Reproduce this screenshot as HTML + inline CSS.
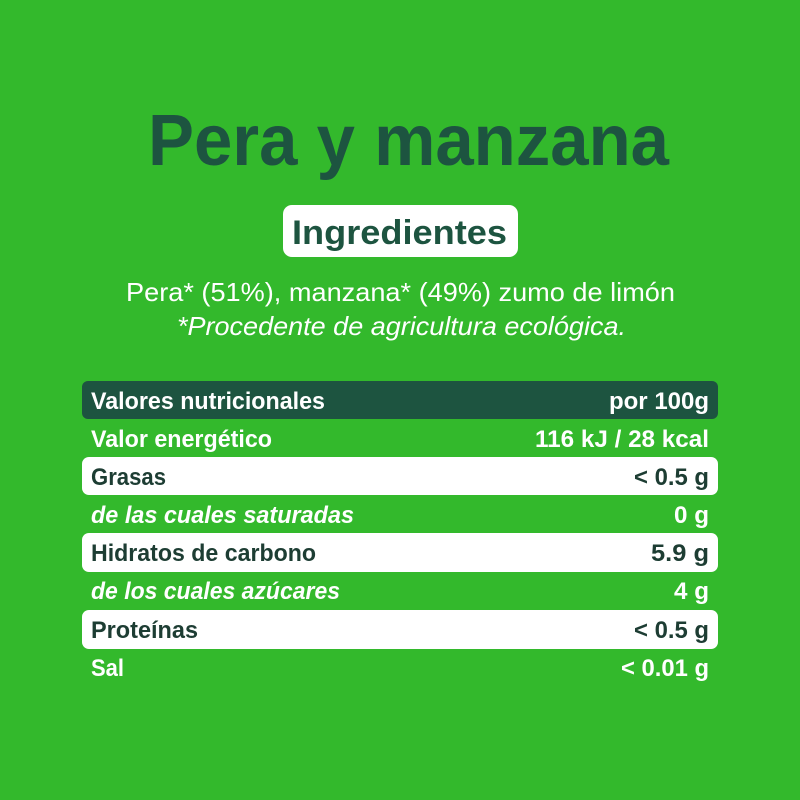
<!DOCTYPE html>
<html><head><meta charset="utf-8"><style>
html,body{margin:0;padding:0;background:#33b92c;}
svg{display:block;}
text{font-family:"Liberation Sans",sans-serif;}
</style></head><body>
<svg width="800" height="800" viewBox="0 0 800 800" xmlns="http://www.w3.org/2000/svg">
<rect width="800" height="800" fill="#33b92c"/>
<text x="148" y="165" font-size="72" font-weight="bold" fill="#1d5440" textLength="521" lengthAdjust="spacingAndGlyphs">Pera y manzana</text>
<rect x="283" y="205" width="235" height="52" rx="9" fill="#fff"/>
<text x="292" y="244" font-size="34" font-weight="bold" fill="#1d5440" textLength="215" lengthAdjust="spacingAndGlyphs">Ingredientes</text>
<text x="126" y="301" font-size="26" fill="#fff" textLength="549" lengthAdjust="spacingAndGlyphs">Pera* (51%), manzana* (49%)  zumo de limón</text>
<text x="177" y="335" font-size="26" font-style="italic" fill="#fff" textLength="449" lengthAdjust="spacingAndGlyphs">*Procedente de agricultura ecológica.</text>

<rect x="82" y="381" width="636" height="38" rx="6" fill="#1d5440"/>
<rect x="82" y="457" width="636" height="38" rx="7" fill="#fff"/>
<rect x="82" y="533" width="636" height="39" rx="7" fill="#fff"/>
<rect x="82" y="610" width="636" height="39" rx="7" fill="#fff"/>

<g font-size="24" font-weight="bold">
<text x="91" y="409" fill="#fff" textLength="234" lengthAdjust="spacingAndGlyphs">Valores nutricionales</text>
<text x="709" y="409" fill="#fff" text-anchor="end" textLength="100" lengthAdjust="spacingAndGlyphs">por 100g</text>
<text x="91" y="447" fill="#fff" textLength="181" lengthAdjust="spacingAndGlyphs">Valor energético</text>
<text x="709" y="447" fill="#fff" text-anchor="end" textLength="174" lengthAdjust="spacingAndGlyphs">116 kJ / 28 kcal</text>
<text x="91" y="485" fill="#1d3d33" textLength="75" lengthAdjust="spacingAndGlyphs">Grasas</text>
<text x="709" y="485" fill="#1d3d33" text-anchor="end" textLength="75" lengthAdjust="spacingAndGlyphs">&lt; 0.5 g</text>
<text x="91" y="523" fill="#fff" font-style="italic" textLength="263" lengthAdjust="spacingAndGlyphs">de las cuales saturadas</text>
<text x="709" y="523" fill="#fff" text-anchor="end" textLength="35" lengthAdjust="spacingAndGlyphs">0 g</text>
<text x="91" y="561" fill="#1d3d33" textLength="225" lengthAdjust="spacingAndGlyphs">Hidratos de carbono</text>
<text x="709" y="561" fill="#1d3d33" text-anchor="end" textLength="58" lengthAdjust="spacingAndGlyphs">5.9 g</text>
<text x="91" y="599" fill="#fff" font-style="italic" textLength="249" lengthAdjust="spacingAndGlyphs">de los cuales azúcares</text>
<text x="709" y="599" fill="#fff" text-anchor="end" textLength="35" lengthAdjust="spacingAndGlyphs">4 g</text>
<text x="91" y="638" fill="#1d3d33" textLength="107" lengthAdjust="spacingAndGlyphs">Proteínas</text>
<text x="709" y="638" fill="#1d3d33" text-anchor="end" textLength="75" lengthAdjust="spacingAndGlyphs">&lt; 0.5 g</text>
<text x="91" y="676" fill="#fff" textLength="33" lengthAdjust="spacingAndGlyphs">Sal</text>
<text x="709" y="676" fill="#fff" text-anchor="end" textLength="88" lengthAdjust="spacingAndGlyphs">&lt; 0.01 g</text>
</g>
</svg>
</body></html>
